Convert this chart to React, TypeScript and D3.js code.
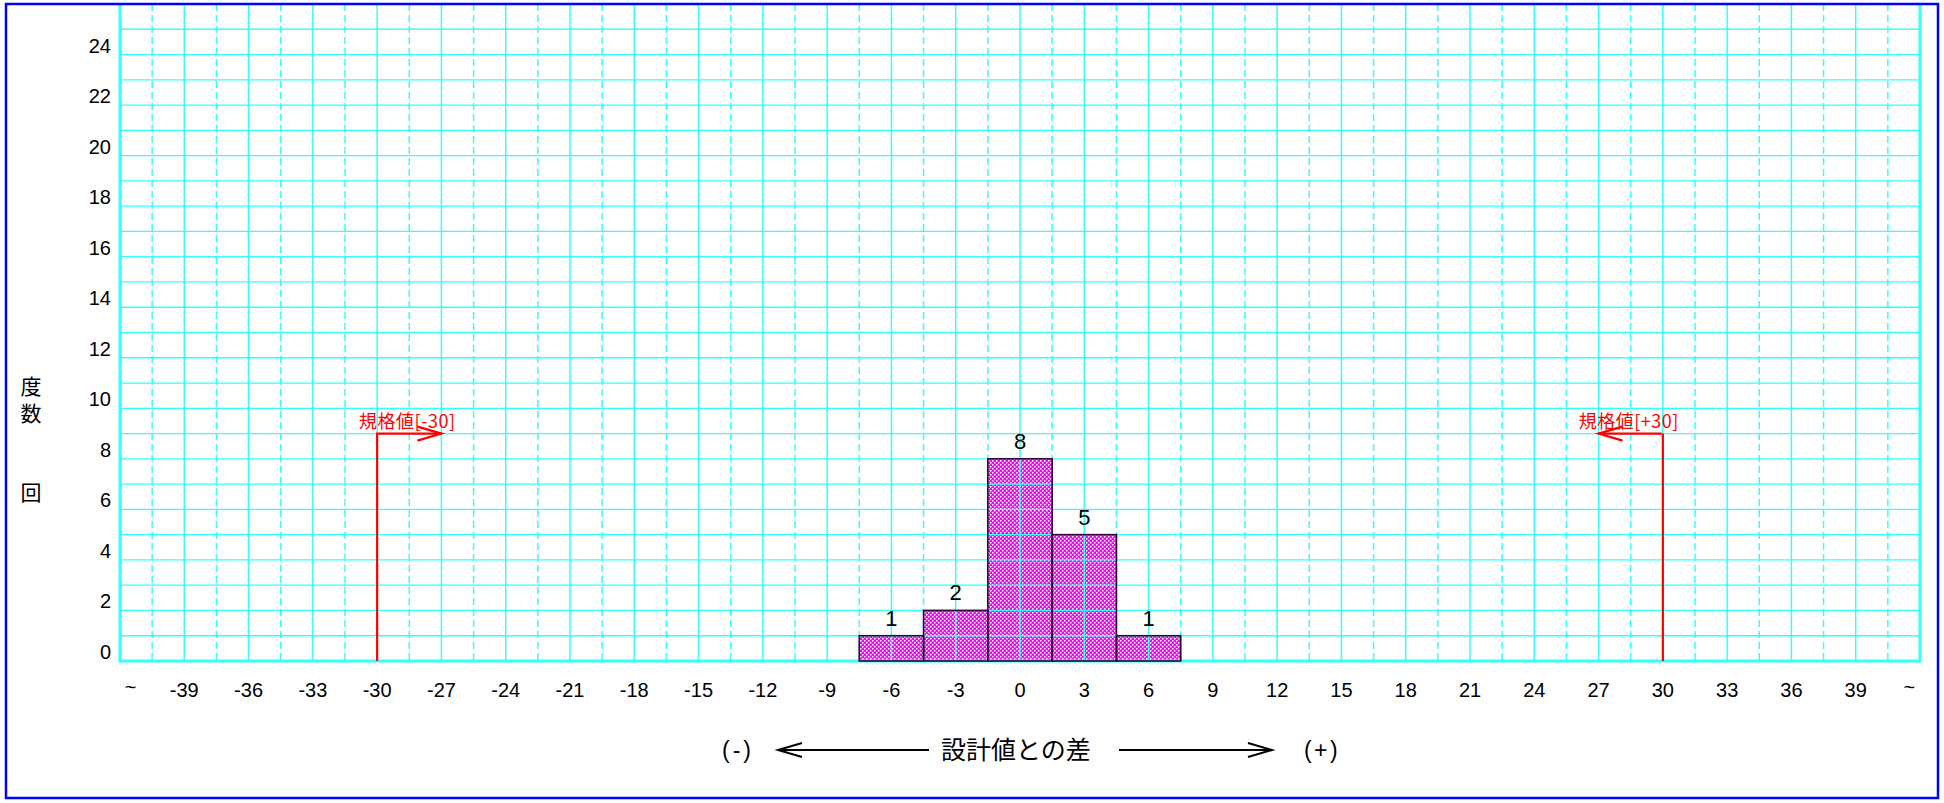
import React from "react";
import * as d3 from "d3";

// ---- data ----
const binCenters: number[] = [-6, -3, 0, 3, 6];
const binCounts: number[] = [1, 2, 8, 5, 1];
const xTickValues: number[] = [-39, -36, -33, -30, -27, -24, -21, -18, -15, -12, -9, -6, -3, 0, 3, 6, 9, 12, 15, 18, 21, 24, 27, 30, 33, 36, 39];
const xTickLabels: string[] = ["-39", "-36", "-33", "-30", "-27", "-24", "-21", "-18", "-15", "-12", "-9", "-6", "-3", "0", "3", "6", "9", "12", "15", "18", "21", "24", "27", "30", "33", "36", "39"];
const openEndLabels: string[] = ["~", "~"];
const yTickValues: number[] = [0, 2, 4, 6, 8, 10, 12, 14, 16, 18, 20, 22, 24];
const limitValues: number[] = [-30, 30];
const limitLabels: string[] = ["規格値[-30]", "規格値[+30]"];
const limitArrowLevel = 9;
const binWidth = 3;
const yTitleChars: string[] = ["度", "数", "", "", "回"];
const xTitle = "設計値との差";
const xTitleLeft = "(-)";
const xTitleRight = "(+)";

const W = 1944;
const H = 803;
const CYAN = "#33ffff";
const LATIN = "'Liberation Sans', Arial, sans-serif";
const CJK = "'Noto Sans CJK JP', 'Liberation Sans', sans-serif";

export default function App() {
  const x = d3.scaleLinear().domain([-42, 42]).range([120, 1920]);
  const y = d3.scaleLinear().domain([0, 26]).range([661, 4]);
  const [x0, x1] = x.range();
  const [yb, yt] = y.range();

  const hLines = d3.range(1, 26);
  const dashed = d3.range(-40.5, 41, 3);

  const arrowHead = (tx: number, ty: number, dir: number, len = 24, spread = 7) =>
    `M${tx - dir * len},${ty - spread}L${tx},${ty}L${tx - dir * len},${ty + spread}`;

  const titleY = 750;

  return (
    <svg width={W} height={H} style={{ position: "absolute", left: 0, top: 0, background: "#fff" }}>
      <defs>
        <pattern id="hatch" width={4} height={4} patternUnits="userSpaceOnUse">
          <rect width={4} height={4} fill="#ff00ff" />
          <rect x={0} y={0} width={1.5} height={1.5} fill="#ffffff" />
          <rect x={2} y={2} width={1.5} height={1.5} fill="#ffffff" />
        </pattern>
      </defs>

      {/* bars fill */}
      {binCenters.map((c, i) => (
        <rect
          key={"bf" + i}
          x={x(c - binWidth / 2)}
          y={y(binCounts[i])}
          width={x(c + binWidth / 2) - x(c - binWidth / 2)}
          height={y(0) - y(binCounts[i])}
          fill="url(#hatch)"
        />
      ))}

      {/* grid */}
      {hLines.map((v) => (
        <line key={"h" + v} x1={x0} x2={x1} y1={y(v)} y2={y(v)} stroke={CYAN} strokeWidth={1.3} />
      ))}
      {xTickValues.map((v) => (
        <line key={"v" + v} x1={x(v)} x2={x(v)} y1={yt} y2={yb} stroke={CYAN} strokeWidth={1.5} />
      ))}
      {dashed.map((v) => (
        <line key={"d" + v} x1={x(v)} x2={x(v)} y1={yt} y2={yb} stroke={CYAN} strokeWidth={1.5} strokeDasharray="7,4" />
      ))}
      <line x1={x0} x2={x0} y1={yt} y2={yb + 1.5} stroke={CYAN} strokeWidth={3} />
      <line x1={x1} x2={x1} y1={yt} y2={yb + 1.5} stroke={CYAN} strokeWidth={3} />
      <line x1={x0} x2={x1} y1={yb} y2={yb} stroke={CYAN} strokeWidth={3} />

      {/* bar outlines */}
      {binCenters.map((c, i) => (
        <rect
          key={"bo" + i}
          x={x(c - binWidth / 2)}
          y={y(binCounts[i])}
          width={x(c + binWidth / 2) - x(c - binWidth / 2)}
          height={y(0) - y(binCounts[i])}
          fill="none"
          stroke="#300030"
          strokeWidth={1.6}
        />
      ))}

      {/* bar labels */}
      {binCenters.map((c, i) => (
        <text
          key={"bl" + i}
          x={x(c)}
          y={y(binCounts[i]) - 10}
          textAnchor="middle"
          fontFamily={LATIN}
          fontSize={22}
          fill="#000"
        >
          {binCounts[i]}
        </text>
      ))}

      {/* y tick labels */}
      {yTickValues.map((v) => (
        <text key={"yt" + v} x={111} y={y(v) - 2} textAnchor="end" fontFamily={LATIN} fontSize={20} fill="#000">
          {v}
        </text>
      ))}

      {/* x tick labels */}
      {xTickValues.map((v, i) => (
        <text key={"xt" + v} x={x(v)} y={697} textAnchor="middle" fontFamily={LATIN} fontSize={20} fill="#000">
          {xTickLabels[i]}
        </text>
      ))}
      <text x={x(-41.5)} y={694} textAnchor="middle" fontFamily={LATIN} fontSize={20} fill="#000">
        {openEndLabels[0]}
      </text>
      <text x={x(41.5)} y={694} textAnchor="middle" fontFamily={LATIN} fontSize={20} fill="#000">
        {openEndLabels[1]}
      </text>

      {/* spec limits */}
      {limitValues.map((v, i) => {
        const dir = v < 0 ? 1 : -1;
        const lx = x(v);
        const tipX = x(v + dir * 3);
        const ly = y(limitArrowLevel);
        return (
          <g key={"lim" + i}>
            <line x1={lx} x2={lx} y1={y(0)} y2={ly} stroke="#ff0000" strokeWidth={2.2} />
            <line x1={lx - 1.1} x2={tipX} y1={ly} y2={ly} stroke="#ff0000" strokeWidth={2.2} />
            <path d={arrowHead(tipX, ly, dir, 24, 7)} fill="none" stroke="#ff0000" strokeWidth={2.2} />
            <text
              x={(lx + tipX) / 2 - 2}
              y={ly - 6}
              textAnchor="middle"
              fontFamily={CJK}
              fontSize={18}
              letterSpacing={0.5}
              fill="#ff0000"
            >
              {limitLabels[i]}
            </text>
          </g>
        );
      })}

      {/* y title */}
      {yTitleChars.map((ch, i) => (
        <text key={"yc" + i} x={31} y={394 + i * 26.5} textAnchor="middle" fontFamily={CJK} fontSize={21} fill="#000">
          {ch}
        </text>
      ))}

      {/* x title */}
      <text x={738} y={titleY + 8} textAnchor="middle" fontFamily={LATIN} fontSize={23} letterSpacing={3} fill="#000">
        {xTitleLeft}
      </text>
      <line x1={778} x2={929} y1={titleY} y2={titleY} stroke="#000" strokeWidth={2} />
      <path d={arrowHead(778, titleY, -1, 24, 7)} fill="none" stroke="#000" strokeWidth={2} />
      <text x={1016} y={titleY + 9} textAnchor="middle" fontFamily={CJK} fontSize={25} fill="#000">
        {xTitle}
      </text>
      <line x1={1119} x2={1272} y1={titleY} y2={titleY} stroke="#000" strokeWidth={2} />
      <path d={arrowHead(1272, titleY, 1, 24, 7)} fill="none" stroke="#000" strokeWidth={2} />
      <text x={1322} y={titleY + 8} textAnchor="middle" fontFamily={LATIN} fontSize={23} letterSpacing={2.5} fill="#000">
        {xTitleRight}
      </text>

      {/* outer frame */}
      <rect x={6} y={4} width={1932} height={794} fill="none" stroke="#0000ff" strokeWidth={2.5} />
    </svg>
  );
}
